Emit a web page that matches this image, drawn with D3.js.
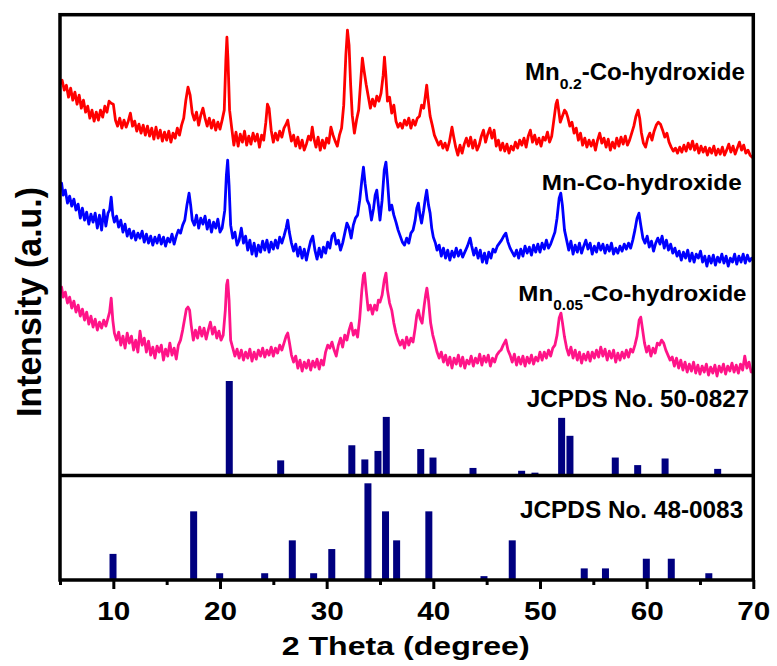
<!DOCTYPE html>
<html><head><meta charset="utf-8">
<script src="https://cdn.jsdelivr.net/npm/d3@7"></script>
<style>
html,body{margin:0;padding:0;background:#fff;}
svg{display:block;font-family:"Liberation Sans",Arial,Helvetica,sans-serif;font-weight:bold;}
</style>
</head><body>
<svg id="chart" width="777" height="666"></svg>
<script>
// ---------------- DATA ----------------
const xTicks = [10, 20, 30, 40, 50, 60, 70];
const xMinorTicks = [5, 15, 25, 35, 45, 55, 65];
const xTitle = "2 Theta (degree)";
const yTitle = "Intensity (a.u.)";

const labelMn02 = ["Mn", "0.2", "-Co-hydroxide"];
const labelMn = ["Mn-Co-hydroxide"];
const labelMn005 = ["Mn", "0.05", "-Co-hydroxide"];
const labelJ50 = ["JCPDS No. 50-0827"];
const labelJ48 = ["JCPDS No. 48-0083"];

// XRD patterns: [2θ, intensity (a.u., stacked)]
const mn02Pattern = [
[5.0,516],[5.2,520],[5.4,510],[5.6,515],[5.8,503],[6.0,512],[6.2,500],[6.4,508],[6.6,496],[6.8,505],
[7.0,492],[7.2,500],[7.4,488],[7.6,494],[7.8,482],[8.0,490],[8.2,479],[8.4,488],[8.6,480],[8.8,490],
[9.0,483],[9.2,494],[9.4,488],[9.6,499],[9.8,497],[10.0,496],[10.2,480],[10.4,474],[10.6,482],[10.8,472],
[11.0,480],[11.2,473],[11.4,479],[11.6,487],[11.8,474],[12.0,479],[12.2,469],[12.4,476],[12.6,467],[12.8,475],
[13.0,465],[13.2,474],[13.4,464],[13.6,472],[13.8,461],[14.0,473],[14.2,462],[14.4,470],[14.6,459],[14.8,468],
[15.0,460],[15.2,469],[15.4,458],[15.6,467],[15.8,462],[16.0,472],[16.2,465],[16.4,475],[16.6,482],[16.8,500],
[17.0,513],[17.2,505],[17.4,487],[17.6,480],[17.8,488],[18.0,475],[18.2,485],[18.4,492],[18.6,482],[18.8,474],
[19.0,482],[19.2,472],[19.4,480],[19.6,470],[19.8,478],[20.0,471],[20.2,480],[20.4,490],[20.55,540],[20.65,563],
[20.75,540],[20.9,490],[21.1,472],[21.3,455],[21.5,468],[21.7,454],[21.9,466],[22.1,458],[22.3,469],[22.5,455],
[22.7,464],[22.9,456],[23.1,467],[23.3,459],[23.5,466],[23.7,453],[23.9,465],[24.1,460],[24.3,478],[24.45,496],
[24.6,492],[24.8,470],[25.0,458],[25.2,467],[25.4,460],[25.6,469],[25.8,463],[26.0,472],[26.2,476],[26.35,480],
[26.5,470],[26.7,459],[26.9,465],[27.1,454],[27.3,463],[27.5,452],[27.7,460],[27.9,450],[28.1,456],[28.3,464],
[28.5,460],[28.65,473],[28.8,462],[29.0,453],[29.2,463],[29.4,450],[29.6,460],[29.8,452],[30.0,462],[30.2,457],
[30.4,473],[30.6,465],[30.8,459],[31.0,454],[31.2,465],[31.4,472],[31.6,495],[31.8,545],[31.95,570],[32.1,555],
[32.25,515],[32.4,485],[32.6,467],[32.8,480],[33.0,490],[33.2,520],[33.35,542],[33.5,530],[33.7,516],[33.9,504],
[34.1,492],[34.3,501],[34.5,494],[34.7,504],[34.9,499],[35.1,507],[35.3,525],[35.42,543],[35.55,525],[35.7,499],
[35.9,503],[36.1,487],[36.3,495],[36.5,479],[36.7,473],[36.9,477],[37.1,472],[37.3,480],[37.5,475],[37.7,482],
[37.9,472],[38.1,480],[38.3,475],[38.5,482],[38.7,484],[38.9,495],[39.1,492],[39.25,504],[39.38,515],[39.5,502],
[39.7,484],[39.9,475],[40.1,465],[40.3,460],[40.5,455],[40.7,459],[40.9,452],[41.1,457],[41.3,450],[41.5,458],
[41.75,473],[41.9,464],[42.1,453],[42.3,445],[42.5,455],[42.7,447],[42.9,456],[43.1,462],[43.3,454],[43.5,463],
[43.7,452],[43.9,460],[44.1,450],[44.3,455],[44.5,464],[44.7,470],[44.9,458],[45.1,466],[45.3,472],[45.5,462],
[45.7,470],[45.9,454],[46.1,460],[46.3,450],[46.5,457],[46.7,449],[46.9,456],[47.1,447],[47.3,454],[47.5,450],
[47.7,458],[47.9,452],[48.1,460],[48.3,455],[48.5,462],[48.7,453],[48.9,464],[49.1,470],[49.3,458],[49.5,465],
[49.7,456],[49.9,462],[50.1,454],[50.3,463],[50.5,460],[50.7,468],[50.9,458],[51.1,464],[51.3,480],[51.5,496],
[51.62,500],[51.75,490],[51.9,478],[52.1,484],[52.3,490],[52.45,488],[52.6,483],[52.8,474],[53.0,478],[53.2,467],
[53.4,472],[53.6,460],[53.8,467],[54.0,455],[54.2,462],[54.4,453],[54.6,460],[54.8,454],[55.0,460],[55.2,450],
[55.4,460],[55.6,467],[55.8,457],[56.0,462],[56.2,453],[56.4,461],[56.6,450],[56.8,458],[57.0,452],[57.2,462],
[57.4,454],[57.6,463],[57.8,456],[58.0,464],[58.2,455],[58.4,460],[58.6,467],[58.8,474],[59.0,484],[59.2,490],
[59.35,482],[59.5,468],[59.7,457],[59.9,453],[60.1,462],[60.3,467],[60.5,460],[60.7,469],[60.9,475],[61.1,478],
[61.3,476],[61.5,470],[61.7,463],[61.9,467],[62.1,458],[62.3,453],[62.5,449],[62.7,452],[62.9,447],[63.1,453],
[63.3,448],[63.5,455],[63.7,449],[63.9,457],[64.1,451],[64.3,459],[64.5,450],[64.7,456],[64.9,447],[65.1,454],
[65.3,448],[65.5,453],[65.7,445],[65.9,452],[66.1,447],[66.3,454],[66.5,445],[66.7,451],[66.9,446],[67.1,453],
[67.3,445],[67.5,450],[67.7,456],[67.9,448],[68.1,454],[68.3,446],[68.5,452],[68.7,458],[68.9,450],[69.1,455],
[69.3,447],[69.5,450],[69.7,445],[69.9,443],[70.0,442]
];

const mnPattern = [
[5.0,412],[5.15,417],[5.3,405],[5.5,410],[5.7,397],[5.9,404],[6.1,394],[6.3,401],[6.5,390],[6.7,396],
[6.9,382],[7.1,392],[7.3,380],[7.5,388],[7.7,376],[7.9,386],[8.1,378],[8.3,387],[8.5,372],[8.7,385],
[8.9,370],[9.1,390],[9.3,374],[9.5,387],[9.65,390],[9.8,403],[9.95,385],[10.1,378],[10.3,384],[10.5,373],
[10.7,380],[10.9,368],[11.1,376],[11.3,364],[11.5,371],[11.7,362],[11.9,369],[12.1,360],[12.3,367],[12.5,362],
[12.7,369],[12.9,358],[13.1,366],[13.3,357],[13.5,364],[13.7,355],[13.9,363],[14.1,357],[14.3,365],[14.5,356],
[14.7,363],[14.9,354],[15.1,362],[15.3,358],[15.5,366],[15.7,356],[15.9,364],[16.1,370],[16.3,367],[16.5,375],
[16.7,380],[16.9,395],[17.1,407],[17.25,395],[17.4,380],[17.6,375],[17.8,385],[18.0,372],[18.2,382],[18.4,376],
[18.6,384],[18.8,371],[19.0,380],[19.2,368],[19.4,378],[19.6,372],[19.8,381],[20.0,368],[20.2,372],[20.45,390],
[20.6,425],[20.72,440],[20.85,415],[21.0,375],[21.2,362],[21.4,368],[21.6,355],[21.8,360],[22.0,372],[22.2,357],
[22.4,364],[22.6,350],[22.8,360],[23.0,346],[23.2,357],[23.4,344],[23.6,355],[23.8,348],[24.0,359],[24.2,350],
[24.4,360],[24.6,348],[24.8,358],[25.0,351],[25.2,360],[25.4,352],[25.6,363],[25.8,357],[26.0,364],[26.2,372],
[26.35,380],[26.5,368],[26.7,357],[26.9,349],[27.1,356],[27.3,344],[27.5,353],[27.7,342],[27.9,351],[28.1,340],
[28.3,350],[28.5,359],[28.7,364],[28.9,350],[29.1,341],[29.3,352],[29.5,343],[29.7,353],[29.9,347],[30.1,358],
[30.3,352],[30.5,364],[30.7,367],[30.9,356],[31.1,360],[31.3,350],[31.5,357],[31.7,367],[31.9,377],[32.1,372],
[32.3,362],[32.5,375],[32.7,382],[32.9,385],[33.1,400],[33.3,420],[33.45,433],[33.6,417],[33.8,400],[34.0,395],
[34.2,380],[34.4,392],[34.55,405],[34.7,410],[34.85,395],[35.0,380],[35.2,400],[35.4,430],[35.56,438],[35.7,420],
[35.9,390],[36.1,395],[36.3,385],[36.5,378],[36.7,370],[36.9,364],[37.1,358],[37.3,355],[37.5,362],[37.7,357],
[37.9,367],[38.1,370],[38.3,380],[38.45,392],[38.6,397],[38.75,385],[38.9,377],[39.1,390],[39.25,402],[39.38,410],
[39.55,395],[39.7,387],[39.85,372],[40.0,363],[40.2,357],[40.35,350],[40.55,355],[40.75,344],[40.95,352],[41.15,342],
[41.35,350],[41.55,340],[41.75,349],[41.95,343],[42.15,352],[42.35,344],[42.55,350],[42.75,343],[42.95,348],[43.2,354],
[43.45,362],[43.6,354],[43.8,345],[44.0,352],[44.2,342],[44.4,350],[44.6,338],[44.8,347],[45.0,337],[45.2,348],
[45.4,342],[45.6,351],[45.8,348],[46.0,354],[46.2,357],[46.4,360],[46.6,364],[46.8,367],[47.0,358],[47.2,352],
[47.4,348],[47.6,344],[47.8,350],[48.0,342],[48.2,351],[48.4,344],[48.6,354],[48.8,347],[49.0,353],[49.2,345],
[49.4,355],[49.6,348],[49.8,356],[50.0,348],[50.2,357],[50.4,351],[50.6,360],[50.8,352],[51.0,356],[51.2,362],
[51.4,368],[51.6,382],[51.8,402],[51.95,407],[52.1,395],[52.3,370],[52.5,360],[52.7,350],[52.9,359],[53.1,346],
[53.3,355],[53.5,348],[53.7,357],[53.9,347],[54.1,354],[54.3,360],[54.5,351],[54.7,357],[54.9,346],[55.1,354],
[55.3,348],[55.5,357],[55.7,350],[55.9,356],[56.1,347],[56.3,355],[56.5,349],[56.7,357],[56.9,346],[57.1,352],
[57.3,347],[57.5,354],[57.7,349],[57.9,356],[58.1,351],[58.3,357],[58.5,352],[58.7,360],[58.9,370],[59.1,382],
[59.28,387],[59.45,375],[59.65,362],[59.85,357],[60.05,364],[60.25,353],[60.45,359],[60.65,349],[60.85,357],[61.05,362],
[61.25,356],[61.45,364],[61.65,352],[61.85,360],[62.05,350],[62.25,356],[62.45,347],[62.65,352],[62.85,344],[63.05,349],
[63.25,340],[63.45,348],[63.65,342],[63.85,350],[64.05,339],[64.25,347],[64.45,338],[64.65,346],[64.85,342],[65.05,349],
[65.25,338],[65.45,344],[65.65,334],[65.85,344],[66.05,337],[66.25,345],[66.45,335],[66.65,343],[66.85,338],[67.05,346],
[67.25,337],[67.45,344],[67.65,334],[67.85,342],[68.05,338],[68.25,346],[68.45,336],[68.65,344],[68.85,338],[69.05,346],
[69.25,337],[69.45,345],[69.65,339],[69.85,342],[70.0,340]
];

const mn005Pattern = [
[5.0,310],[5.15,313],[5.3,303],[5.5,308],[5.7,297],[5.9,303],[6.1,292],[6.3,299],[6.5,288],[6.7,295],
[6.9,284],[7.1,291],[7.3,280],[7.5,288],[7.7,276],[7.9,284],[8.1,273],[8.3,281],[8.5,270],[8.7,278],
[8.9,272],[9.1,280],[9.3,274],[9.5,282],[9.65,288],[9.8,302],[9.95,280],[10.1,267],[10.3,260],[10.5,268],
[10.7,255],[10.9,264],[11.1,252],[11.3,267],[11.5,257],[11.7,264],[11.9,250],[12.1,260],[12.3,248],[12.5,269],
[12.7,255],[12.9,262],[13.1,248],[13.3,259],[13.5,245],[13.7,253],[13.9,242],[14.1,254],[14.3,248],[14.5,255],
[14.7,240],[14.9,251],[15.1,244],[15.3,257],[15.5,245],[15.7,252],[15.9,241],[16.1,255],[16.3,260],[16.5,270],
[16.7,282],[16.85,291],[17.0,293],[17.15,290],[17.3,275],[17.5,260],[17.7,270],[17.9,262],[18.1,273],[18.3,264],
[18.5,272],[18.7,261],[18.9,270],[19.1,278],[19.3,266],[19.5,273],[19.7,262],[19.9,269],[20.1,260],[20.3,265],
[20.5,290],[20.62,315],[20.72,320],[20.85,300],[21.0,260],[21.2,252],[21.4,244],[21.6,251],[21.8,242],[22.0,250],
[22.2,240],[22.4,248],[22.6,242],[22.8,251],[23.0,239],[23.2,248],[23.4,241],[23.6,250],[23.8,244],[24.0,252],
[24.2,243],[24.4,250],[24.6,245],[24.8,253],[25.0,244],[25.2,252],[25.4,247],[25.6,255],[25.8,250],[26.0,257],
[26.2,264],[26.35,267],[26.5,258],[26.7,245],[26.9,238],[27.1,244],[27.3,232],[27.5,240],[27.7,229],[27.9,238],
[28.1,232],[28.3,240],[28.5,230],[28.7,239],[28.9,233],[29.1,241],[29.3,231],[29.5,240],[29.7,235],[29.9,248],
[30.1,255],[30.3,252],[30.5,258],[30.7,250],[30.9,244],[31.1,255],[31.3,262],[31.5,253],[31.7,265],[31.9,260],
[32.1,270],[32.3,277],[32.5,265],[32.7,270],[32.9,263],[33.1,282],[33.3,310],[33.45,325],[33.55,327],[33.7,310],
[33.9,290],[34.1,295],[34.3,286],[34.5,295],[34.7,290],[34.85,300],[35.0,298],[35.2,305],[35.4,320],[35.56,327],
[35.7,310],[35.9,297],[36.1,290],[36.3,277],[36.5,267],[36.7,260],[36.9,255],[37.1,260],[37.3,252],[37.5,263],
[37.7,255],[37.9,262],[38.1,258],[38.3,272],[38.45,285],[38.6,290],[38.75,282],[38.95,277],[39.15,295],[39.28,305],
[39.4,312],[39.55,300],[39.75,277],[39.95,265],[40.15,257],[40.35,248],[40.55,242],[40.75,248],[40.95,238],[41.15,245],
[41.35,235],[41.55,243],[41.75,232],[41.95,242],[42.15,236],[42.35,245],[42.55,234],[42.75,243],[42.95,232],[43.15,240],
[43.35,236],[43.55,244],[43.75,234],[43.95,242],[44.15,237],[44.35,246],[44.55,235],[44.75,244],[44.95,238],[45.15,245],
[45.35,234],[45.55,242],[45.75,238],[45.95,245],[46.15,248],[46.35,250],[46.55,255],[46.8,260],[47.0,250],[47.2,245],
[47.4,238],[47.6,246],[47.8,235],[48.0,243],[48.2,236],[48.4,244],[48.6,234],[48.8,243],[49.0,237],[49.2,245],
[49.4,236],[49.6,243],[49.8,239],[50.0,248],[50.2,240],[50.4,248],[50.6,242],[50.8,250],[51.0,244],[51.2,252],
[51.4,255],[51.6,265],[51.8,282],[51.97,287],[52.1,278],[52.3,263],[52.5,252],[52.7,245],[52.9,253],[53.1,242],
[53.3,250],[53.5,240],[53.7,248],[53.9,237],[54.1,246],[54.3,240],[54.5,248],[54.7,239],[54.9,248],[55.1,242],
[55.3,250],[55.5,243],[55.7,253],[55.9,244],[56.1,251],[56.3,240],[56.5,249],[56.7,242],[56.9,250],[57.1,238],
[57.3,247],[57.5,240],[57.7,248],[57.9,242],[58.1,250],[58.3,243],[58.5,251],[58.7,248],[58.9,255],[59.1,264],
[59.3,280],[59.45,283],[59.6,272],[59.8,257],[60.0,248],[60.2,254],[60.4,244],[60.6,252],[60.8,247],[61.0,257],
[61.2,255],[61.4,260],[61.6,257],[61.8,250],[62.0,245],[62.2,240],[62.4,243],[62.6,234],[62.8,242],[63.0,232],
[63.2,240],[63.4,230],[63.6,238],[63.8,228],[64.0,236],[64.2,229],[64.4,238],[64.6,227],[64.8,235],[65.0,226],
[65.2,234],[65.4,228],[65.6,236],[65.8,225],[66.0,233],[66.2,227],[66.4,235],[66.6,224],[66.8,234],[67.0,228],
[67.2,236],[67.4,226],[67.6,234],[67.8,229],[68.0,237],[68.2,228],[68.4,235],[68.6,227],[68.8,236],[69.0,230],
[69.2,244],[69.4,232],[69.6,238],[69.8,228],[70.0,230]
];

// Reference stick patterns (relative intensity, %)
const j50Pos = [20.87, 25.69, 32.36, 33.58, 34.81, 35.59, 38.82, 39.97, 43.72, 48.28, 49.53, 52.03, 52.81, 57.06, 59.16, 61.73, 66.66];
const j50Int = [100, 16, 32, 17, 26, 62, 28, 19, 8, 5, 3, 61, 42, 19, 11, 18, 7];
const j48Pos = [9.97, 17.53, 19.97, 24.19, 26.78, 28.78, 30.48, 33.87, 35.52, 36.56, 39.58, 44.75, 47.40, 54.15, 56.14, 59.97, 62.31, 65.83];
const j48Int = [27, 71, 7, 7, 41, 7, 32, 100, 71, 41, 71, 4, 41, 12, 12, 22, 22, 7];

// ---------------- LAYOUT ----------------
const L = 60, R = 753.3, T = 14.7, B = 580, MID = 475.5;
const FONT = '"Liberation Sans", Arial, Helvetica, sans-serif';
const svg = d3.select("#chart");

const x = d3.scaleLinear().domain([5, 70]).range([L, R]);
const y = d3.scaleLinear().domain([20, 585.5]).range([B, T]);
const yTop = d3.scaleLinear().domain([0, 100]).range([MID, MID - 94.5]);
const yBot = d3.scaleLinear().domain([0, 100]).range([B, B - 96.7]);

svg.append("defs").append("clipPath").attr("id", "clipUp")
  .append("rect").attr("x", L).attr("y", T).attr("width", R - L).attr("height", MID - T);

const line = d3.line().x(d => x(d[0])).y(d => y(d[1]));
const curves = [
  {data: mn02Pattern, color: "#ff0000"},
  {data: mnPattern, color: "#0000ff"},
  {data: mn005Pattern, color: "#ff1488"}
];
const gc = svg.append("g").attr("clip-path", "url(#clipUp)");
gc.selectAll("path").data(curves).join("path")
  .attr("d", d => line(d.data))
  .attr("fill", "none")
  .attr("stroke", d => d.color)
  .attr("stroke-width", 2.8)
  .attr("stroke-linejoin", "round");

// sticks
const BW = 7;
svg.append("g").selectAll("rect").data(j50Pos.map((p, i) => [p, j50Int[i]])).join("rect")
  .attr("x", d => x(d[0]) - BW / 2).attr("width", BW)
  .attr("y", d => yTop(d[1])).attr("height", d => yTop(0) - yTop(d[1]))
  .attr("fill", "#000080");
svg.append("g").selectAll("rect").data(j48Pos.map((p, i) => [p, j48Int[i]])).join("rect")
  .attr("x", d => x(d[0]) - BW / 2).attr("width", BW)
  .attr("y", d => yBot(d[1])).attr("height", d => yBot(0) - yBot(d[1]))
  .attr("fill", "#000080");

// axis ticks
const gMinor = svg.append("g").attr("transform", `translate(0,${B})`)
  .call(d3.axisBottom(x).tickValues(xMinorTicks).tickSize(5).tickFormat(""));
gMinor.select(".domain").remove();
gMinor.selectAll("line").attr("stroke", "#000").attr("stroke-width", 3);

const gAxis = svg.append("g").attr("transform", `translate(0,${B})`)
  .call(d3.axisBottom(x).tickValues(xTicks).tickSize(9).tickFormat(d3.format("d")));
gAxis.select(".domain").remove();
gAxis.attr("font-family", FONT).attr("font-size", 25).attr("font-weight", "bold");
gAxis.selectAll("line").attr("stroke", "#000").attr("stroke-width", 3);
gAxis.selectAll("text").attr("y", 40).attr("dy", null).attr("fill", "#000")
  .attr("textLength", 33).attr("lengthAdjust", "spacingAndGlyphs");

// frame
svg.append("rect").attr("x", L).attr("y", T).attr("width", R - L).attr("height", B - T)
  .attr("fill", "none").attr("stroke", "#000").attr("stroke-width", 3.5);
svg.append("line").attr("x1", L).attr("x2", R).attr("y1", MID).attr("y2", MID)
  .attr("stroke", "#000").attr("stroke-width", 3.5);

// labels
function placeLabel(parts, left, right, base, size) {
  const t = svg.append("text").attr("font-size", size).attr("font-family", FONT)
    .attr("font-weight", "bold").attr("fill", "#000");
  t.append("tspan").text(parts[0]);
  if (parts.length === 3) {
    t.append("tspan").attr("font-size", Math.round(size * 0.65)).attr("dy", 9).text(parts[1]);
    t.append("tspan").attr("dy", -9).text(parts[2]);
  }
  const w = t.node().getBBox().width;
  const target = right - left;
  t.attr("transform", `translate(${left},${base}) scale(${target / w},1)`);
  return t;
}
placeLabel(labelMn02, 525, 745, 80, 23);
placeLabel(labelMn, 541.7, 741.7, 190, 22);
placeLabel(labelMn005, 518.3, 746.7, 301, 22);
placeLabel(labelJ50, 526.7, 749.3, 407, 23);
placeLabel(labelJ48, 520, 743.3, 518, 23);

// axis titles
const xt = svg.append("text").text(xTitle).attr("font-family", FONT).attr("font-weight", "bold")
  .attr("font-size", 26).attr("fill", "#000");
const xw = xt.node().getBBox().width;
xt.attr("transform", `translate(281.7,655) scale(${248 / xw},1)`);

svg.append("text").text(yTitle).attr("font-family", FONT).attr("font-weight", "bold")
  .attr("font-size", 31).attr("fill", "#000").attr("text-anchor", "middle")
  .attr("textLength", 230).attr("lengthAdjust", "spacingAndGlyphs")
  .attr("transform", "translate(41,302) rotate(-90) scale(1,1.16)");
</script>
</body></html>
